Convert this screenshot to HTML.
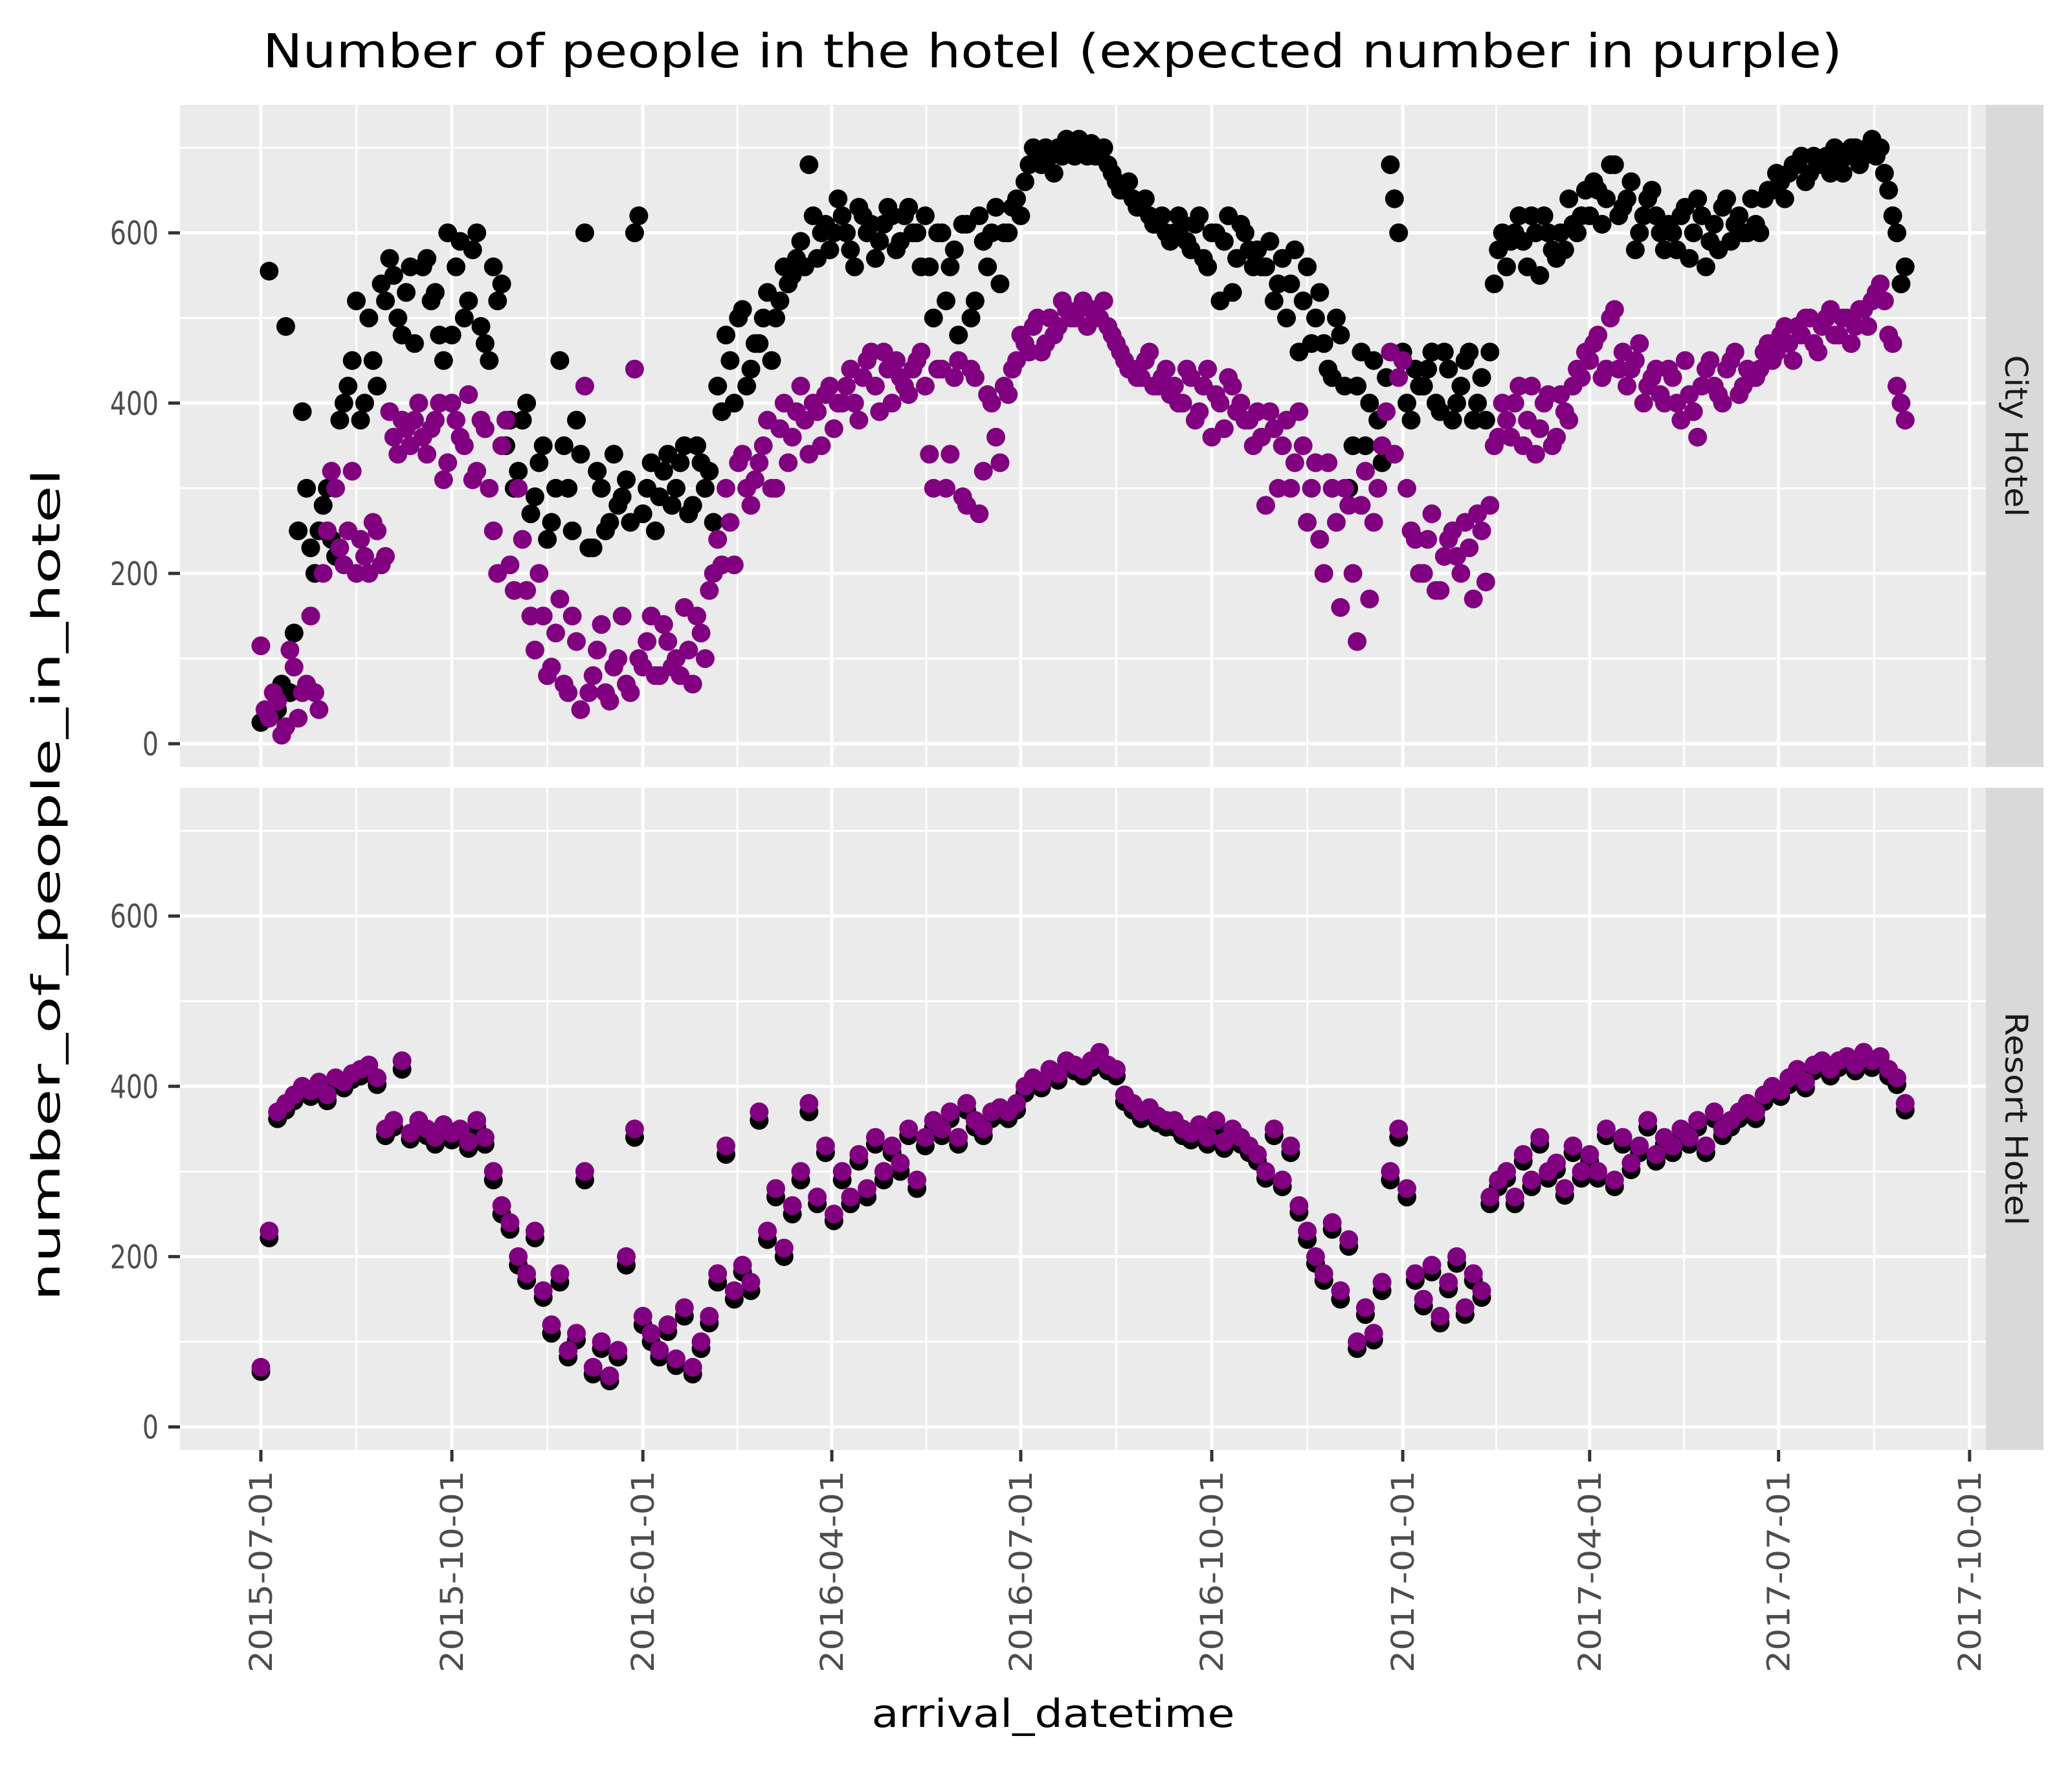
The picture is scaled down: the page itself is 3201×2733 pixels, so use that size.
<!DOCTYPE html>
<html><head><meta charset="utf-8"><style>
html,body{margin:0;padding:0;background:#fff;}
svg{display:block;}
text{font-family:"DejaVu Sans","Liberation Sans",sans-serif;}
</style></head><body>
<svg id="chart" width="3201" height="2733" viewBox="0 0 3201 2733" xmlns="http://www.w3.org/2000/svg">
<rect x="0" y="0" width="3201" height="2733" fill="#ffffff"/>
<text x="1626" y="104" font-size="72" text-anchor="middle" textLength="2440" lengthAdjust="spacingAndGlyphs" fill="#000">Number of people in the hotel (expected number in purple)</text>
<text transform="translate(92,1367) rotate(-90)" font-size="60" text-anchor="middle" textLength="1286" lengthAdjust="spacingAndGlyphs" fill="#000">number_of_people_in_hotel</text>
<text x="1627" y="2668" font-size="60" text-anchor="middle" textLength="561" lengthAdjust="spacingAndGlyphs" fill="#000">arrival_datetime</text>
<g id="panels"></g>
</svg>
<script>
// day offsets from 2015-07-01
const dayOffsets = [];
for (let i = 0; i < 199; i++) dayOffsets.push(i * 4);
const dayOffsetsMid = [];
for (let i = 0; i < 198; i++) dayOffsetsMid.push(i * 4 + 2);

const xTickLabels = ["2015-07-01","2015-10-01","2016-01-01","2016-04-01","2016-07-01","2016-10-01","2017-01-01","2017-04-01","2017-07-01","2017-10-01"];
const xTickDays = [0,92,184,275,366,458,550,640,731,823];
const yTickValues = [0,200,400,600];
const yTickLabels = ["0","200","400","600"];
const facetLabels = ["City Hotel","Resort Hotel"];

const cityActual = [
25,555,40,490,130,390,230,250,300,220,
400,450,380,500,420,520,550,480,560,400,
570,530,450,480,590,520,600,470,560,540,
380,320,400,290,350,260,450,300,380,600,
230,300,260,280,310,600,270,330,290,340,
300,350,280,330,320,420,480,400,510,440,
470,530,500,560,550,590,680,570,610,600,
620,580,630,600,570,610,620,590,630,600,
620,500,600,560,480,610,520,590,600,540,
600,640,660,700,680,690,700,710,690,700,
705,690,680,660,650,640,630,620,610,600,
600,610,580,620,560,600,590,530,610,580,
580,560,520,570,540,460,560,500,470,430,
480,300,420,350,450,330,680,600,400,440,
420,460,390,440,400,450,380,430,460,580,
560,600,590,620,550,600,570,580,610,620,
620,650,640,680,630,660,600,640,620,580,
600,620,570,640,560,610,630,590,620,600,
610,640,650,660,670,680,660,690,680,670,
680,690,700,690,710,700,650,600,560];

const cityActualMid = [
30,35,70,60,250,300,200,280,240,380,
420,520,400,450,540,570,500,530,470,560,
520,480,600,560,500,580,490,450,520,350,
300,380,270,330,240,300,350,250,340,230,
320,250,340,290,260,620,300,250,320,280,
330,270,350,300,260,390,450,500,420,470,
500,450,520,540,570,560,620,600,580,640,
600,560,620,610,590,630,580,620,600,560,
560,600,520,580,610,500,620,560,630,600,
630,620,680,690,700,670,690,700,710,690,
690,700,670,650,660,630,640,610,620,590,
620,590,610,570,600,520,620,570,600,560,
560,590,540,500,580,520,470,530,440,500,
420,350,460,400,380,430,640,460,380,420,
440,400,460,380,420,460,400,380,540,600,
590,620,560,600,620,580,600,640,600,650,
660,610,680,620,640,580,620,650,600,610,
580,630,600,620,590,580,640,610,600,640,
600,650,670,640,680,690,670,680,690,700,
670,700,680,700,690,670,620,540];

const cityExpected = [
115,30,50,20,90,60,150,40,250,300,
210,320,240,200,250,220,360,380,350,400,
340,380,310,400,360,410,320,370,250,350,
210,300,180,110,150,90,170,60,120,420,
80,140,50,100,70,440,90,150,80,120,
100,160,70,130,180,240,300,210,340,280,
330,380,300,400,360,420,340,390,410,370,
400,440,380,450,420,460,400,430,410,450,
420,300,440,340,450,280,430,320,400,330,
410,450,470,490,460,500,490,510,500,520,
510,500,490,470,450,440,430,460,420,440,
420,400,430,390,440,410,370,420,400,380,
390,280,370,350,300,390,260,330,200,300,
160,280,120,320,260,350,460,430,300,240,
200,270,180,240,220,260,170,250,280,360,
380,400,350,420,370,410,360,390,420,430,
450,480,440,510,460,440,470,420,440,400,
430,380,410,360,440,420,400,450,410,440,
430,460,450,480,470,490,500,470,490,510,
480,500,490,510,520,540,480,420,380];

const cityExpectedMid = [
40,60,10,110,30,70,60,200,320,230,
250,200,220,260,210,390,340,370,380,360,
370,400,330,380,350,310,380,300,200,380,
180,240,150,200,80,130,70,150,40,60,
110,60,90,150,60,100,120,80,140,90,
80,110,150,100,200,210,260,330,300,310,
350,300,370,330,390,380,400,350,420,400,
420,400,430,460,390,440,450,420,440,460,
340,440,300,430,290,440,270,410,360,420,
440,480,460,500,470,480,520,500,510,490,
500,520,480,460,440,430,450,420,430,410,
400,440,380,420,360,400,430,390,380,350,
360,390,300,380,330,350,300,240,330,260,
300,200,280,170,300,390,340,450,250,200,
240,180,220,250,200,230,270,190,350,400,
360,420,380,340,400,350,410,380,440,460,
470,430,500,440,420,450,400,430,410,440,
400,450,390,420,450,410,440,460,420,430,
440,470,460,490,450,480,500,460,500,480,
500,470,510,490,530,520,470,400];

const resortActual = [
65,222,362,372,383,392,388,398,383,402,
398,408,412,418,402,342,352,420,338,352,
342,332,347,337,343,327,352,332,290,250,
232,190,172,222,152,110,170,82,102,290,
62,92,54,82,190,340,120,100,82,112,
72,130,62,92,122,170,320,150,182,160,
360,220,270,200,250,290,370,262,322,242,
290,262,312,270,332,290,322,300,342,280,
330,352,342,362,332,372,352,342,362,367,
362,372,392,402,398,412,407,422,418,412,
422,432,418,412,382,372,362,367,357,352,
352,342,337,347,332,352,327,342,332,322,
312,292,342,282,322,252,220,192,172,232,
150,212,92,132,102,160,290,340,270,172,
142,182,122,162,192,132,172,152,262,282,
292,262,312,282,332,292,302,272,322,292,
312,292,342,282,332,302,322,352,312,332,
322,342,332,352,322,362,342,352,362,372,
362,382,392,388,402,412,398,418,422,412,
422,428,418,432,422,428,412,402,372];

const resortExpected = [
70,230,370,380,390,400,395,405,390,410,
405,415,420,425,410,350,360,430,345,360,
350,340,355,345,350,335,360,340,300,260,
240,200,180,230,160,120,180,90,110,300,
70,100,60,90,200,350,130,110,90,120,
80,140,70,100,130,180,330,160,190,170,
370,230,280,210,260,300,380,270,330,250,
300,270,320,280,340,300,330,310,350,290,
340,360,350,370,340,380,360,350,370,375,
370,380,400,410,405,420,415,430,425,420,
430,440,425,420,390,380,370,375,365,360,
360,350,345,355,340,360,335,350,340,330,
320,300,350,290,330,260,230,200,180,240,
160,220,100,140,110,170,300,350,280,180,
150,190,130,170,200,140,180,160,270,290,
300,270,320,290,340,300,310,280,330,300,
320,300,350,290,340,310,330,360,320,340,
330,350,340,360,330,370,350,360,370,380,
370,390,400,395,410,420,405,425,430,420,
430,435,425,440,430,435,420,410,380];

const NS = "http://www.w3.org/2000/svg";
const PX0 = 278, PX1 = 3068, STRIP1 = 3157;
const panelsTop = [162, 1217];
const PH = 1023;
const zeroY = [1149, 2204.5];
const pxPerUnit = 1.3155;
const xOrigin = 403, pxPerDay = 3.2075;

function xScale(d){ return xOrigin + pxPerDay * d; }
function yScale(v, p){ return zeroY[p] - pxPerUnit * v; }

function mk(tag, attrs, parent){
  const el = document.createElementNS(NS, tag);
  for (const k in attrs) el.setAttribute(k, attrs[k]);
  parent.appendChild(el);
  return el;
}

const root = document.getElementById("panels");
const seriesByPanel = [
  [{days: dayOffsets, vals: cityActual, color: "#000000", name: "city-actual-point"},
   {days: dayOffsetsMid, vals: cityActualMid, color: "#000000", name: "city-actual-point"},
   {days: dayOffsets, vals: cityExpected, color: "#800080", name: "city-expected-point"},
   {days: dayOffsetsMid, vals: cityExpectedMid, color: "#800080", name: "city-expected-point"}],
  [{days: dayOffsets, vals: resortActual, color: "#000000", name: "resort-actual-point"},
   {days: dayOffsets, vals: resortExpected, color: "#800080", name: "resort-expected-point"}]
];

for (let p = 0; p < 2; p++) {
  const top = panelsTop[p];
  const g = mk("g", {}, root);
  
  
  mk("rect", {x: PX0, y: top, width: PX1 - PX0, height: PH, fill: "#ebebeb"}, g);
  for (let v = 100; v <= 700; v += 200) {
    const y = yScale(v, p);
    const l = mk("line", {x1: PX0, x2: PX1, y1: y, y2: y, stroke: "#fff", "stroke-width": 2.8}, g);
    
    
  }
  for (let i = 0; i < xTickDays.length - 1; i++) {
    const x = xScale((xTickDays[i] + xTickDays[i+1]) / 2);
    const l = mk("line", {x1: x, x2: x, y1: top, y2: top + PH, stroke: "#fff", "stroke-width": 2.8}, g);
    
    
  }
  yTickValues.forEach(v => {
    const y = yScale(v, p);
    const l = mk("line", {x1: PX0, x2: PX1, y1: y, y2: y, stroke: "#fff", "stroke-width": 5}, g);
    
    
  });
  xTickDays.forEach(d => {
    const x = xScale(d);
    const l = mk("line", {x1: x, x2: x, y1: top, y2: top + PH, stroke: "#fff", "stroke-width": 5}, g);
    
    
  });
  seriesByPanel[p].forEach(s => {
    const sg = mk("g", {fill: s.color}, g);
    
    
    for (let i = 0; i < s.days.length; i++) {
      const c = mk("circle", {cx: xScale(s.days[i]).toFixed(1), cy: yScale(s.vals[i], p).toFixed(1), r: 14.5}, sg);
      
      
    }
  });
  yTickValues.forEach((v, i) => {
    const y = yScale(v, p);
    const t = mk("line", {x1: 260, x2: PX0, y1: y, y2: y, stroke: "#333", "stroke-width": 5}, g);
    
    
    const tx = mk("text", {x: 245, y: y + 18, "font-size": 50, "text-anchor": "end", fill: "#4d4d4d", textLength: 25 * yTickLabels[i].length, lengthAdjust: "spacingAndGlyphs"}, g);
    tx.textContent = yTickLabels[i];
    
    
  });
  const sr = mk("rect", {x: PX1, y: top, width: STRIP1 - PX1, height: PH, fill: "#d9d9d9"}, g);
  
  
  const st = mk("text", {transform: "translate(" + (PX1 + 30) + "," + (top + PH / 2) + ") rotate(90)", "font-size": 48, "text-anchor": "middle", fill: "#1a1a1a", textLength: p === 0 ? 250 : 330, lengthAdjust: "spacingAndGlyphs"}, g);
  st.textContent = facetLabels[p];
  
  
}

const xg = mk("g", {}, root);


const bottomY = panelsTop[1] + PH;
xTickDays.forEach((d, i) => {
  const x = xScale(d);
  const t = mk("line", {x1: x, x2: x, y1: bottomY, y2: bottomY + 18, stroke: "#333", "stroke-width": 5}, xg);
  
  
  const tx = mk("text", {transform: "translate(" + (x + 17) + "," + (bottomY + 32) + ") rotate(-90)", "font-size": 48, "text-anchor": "end", fill: "#4d4d4d", textLength: 312, lengthAdjust: "spacingAndGlyphs"}, xg);
  tx.textContent = xTickLabels[i];
  
  
});
</script>
</body></html>
